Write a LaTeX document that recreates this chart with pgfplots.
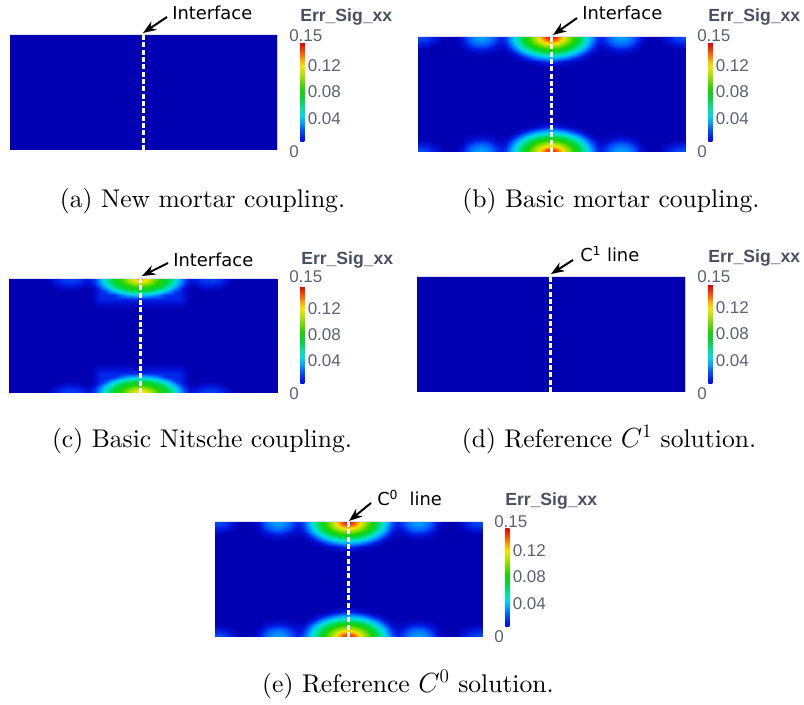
\documentclass[border=0pt]{standalone}
\usepackage{fontspec}
\usepackage{pgfplots}
\pgfplotsset{compat=1.18}
\usepackage{pgfplotstable}
\usetikzlibrary{arrows.meta}
\newfontfamily\dv{DejaVu Sans}
\newfontfamily\lib{Liberation Sans}
\newfontfamily\lmten{lmroman10-regular}[Extension=.otf]
\definecolor{cbtxt}{RGB}{74,80,98}
\definecolor{cbnum}{RGB}{92,98,116}
\definecolor{fieldbg}{RGB}{0,0,178}

\pgfplotsset{
 colormap={pvbar}{rgb255(0cm)=(0,0,235); rgb255(1cm)=(0,40,255); rgb255(2cm)=(0,95,255); rgb255(3cm)=(0,165,255); rgb255(4cm)=(0,215,235); rgb255(5cm)=(0,225,170); rgb255(6.5cm)=(0,215,60); rgb255(8cm)=(30,210,0); rgb255(10cm)=(160,225,0); rgb255(11.5cm)=(245,230,0); rgb255(12.5cm)=(255,170,0); rgb255(13.5cm)=(255,90,0); rgb255(15cm)=(225,0,0)},
 colormap={pv}{rgb255(0cm)=(0,0,178); rgb255(1cm)=(0,25,225); rgb255(2cm)=(0,95,255); rgb255(3cm)=(0,165,255); rgb255(4cm)=(0,215,235); rgb255(5cm)=(0,225,170); rgb255(6.5cm)=(0,215,60); rgb255(8cm)=(30,210,0); rgb255(10cm)=(160,225,0); rgb255(11.5cm)=(245,230,0); rgb255(12.5cm)=(255,170,0); rgb255(13.5cm)=(255,90,0); rgb255(15cm)=(225,0,0)},
 field/.style={
   scale only axis, view={0}{90}, enlargelimits=false,
   axis line style={draw=none}, xtick=\empty, ytick=\empty, ztick=\empty,
   ymin=-57.5, ymax=57.5, zmin=0, zmax=1,
   axis background/.style={fill=fieldbg},
   point meta min=0, point meta max=0.15,
   colormap name=pv,
   colorbar,
   colorbar style={
     at={(parent axis.north east)}, anchor=north west, xshift=9pt,
     width=3pt, height=74.25pt, scale only axis,
     colormap name=pvbar,
     axis line style={draw=none},
     xtick=\empty,
     ytick={0.04,0.08,0.12}, yticklabels={0.04,0.08,0.12},
     major tick length=0pt,
     yticklabel style={font=\lib\fontsize{12.75}{14}\selectfont, text=cbnum, anchor=west, xshift=-1pt, yshift=-2pt},
   },
 },
 fs/.style={surf, shader=interp, mesh/cols=25, point meta=\thisrow{v}},
 dline/.style={white, line width=2.25pt, dash pattern=on 3.75pt off 1.75pt},
}

\pgfplotstableread[row sep=\\]{
x d v\\
0 0 0.155\\ 5 0 0.140\\ 10 0 0.125\\ 15 0 0.105\\ 20 0 0.090\\ 25 0 0.075\\ 30 0 0.060\\ 35 0 0.045\\ 40 0 0.030\\ 45 0 0.016\\ 50 0 0.011\\ 55 0 0.016\\ 60 0 0.023\\ 65 0 0.028\\ 70 0 0.030\\ 75 0 0.028\\ 80 0 0.023\\ 85 0 0.016\\ 90 0 0.007\\ 95 0 0.002\\ 100 0 0\\ 108 0 0\\ 116 0 0.009\\ 124 0 0.015\\ 140 0 0.020\\
0 3 0.138\\ 5 3 0.132\\ 10 3 0.119\\ 15 3 0.102\\ 20 3 0.088\\ 25 3 0.073\\ 30 3 0.059\\ 35 3 0.044\\ 40 3 0.029\\ 45 3 0.015\\ 50 3 0.010\\ 55 3 0.015\\ 60 3 0.022\\ 65 3 0.026\\ 70 3 0.028\\ 75 3 0.026\\ 80 3 0.022\\ 85 3 0.015\\ 90 3 0.006\\ 95 3 0.001\\ 100 3 0\\ 108 3 0\\ 116 3 0.008\\ 124 3 0.014\\ 140 3 0.017\\
0 6 0.119\\ 5 6 0.115\\ 10 6 0.105\\ 15 6 0.094\\ 20 6 0.081\\ 25 6 0.068\\ 30 6 0.054\\ 35 6 0.040\\ 40 6 0.025\\ 45 6 0.012\\ 50 6 0.008\\ 55 6 0.012\\ 60 6 0.018\\ 65 6 0.022\\ 70 6 0.024\\ 75 6 0.022\\ 80 6 0.018\\ 85 6 0.012\\ 90 6 0.004\\ 95 6 0\\ 100 6 0\\ 108 6 0\\ 116 6 0.005\\ 124 6 0.010\\ 140 6 0.013\\
0 9 0.099\\ 5 9 0.097\\ 10 9 0.091\\ 15 9 0.082\\ 20 9 0.071\\ 25 9 0.059\\ 30 9 0.047\\ 35 9 0.033\\ 40 9 0.020\\ 45 9 0.009\\ 50 9 0.005\\ 55 9 0.008\\ 60 9 0.013\\ 65 9 0.017\\ 70 9 0.018\\ 75 9 0.017\\ 80 9 0.013\\ 85 9 0.008\\ 90 9 0.002\\ 95 9 0\\ 100 9 0\\ 108 9 0\\ 116 9 0\\ 124 9 0.006\\ 140 9 0.008\\
0 12 0.082\\ 5 12 0.080\\ 10 12 0.075\\ 15 12 0.068\\ 20 12 0.059\\ 25 12 0.049\\ 30 12 0.037\\ 35 12 0.025\\ 40 12 0.013\\ 45 12 0.005\\ 50 12 0.002\\ 55 12 0.004\\ 60 12 0.007\\ 65 12 0.010\\ 70 12 0.011\\ 75 12 0.010\\ 80 12 0.007\\ 85 12 0.004\\ 90 12 0\\ 95 12 0\\ 100 12 0\\ 108 12 0\\ 116 12 0\\ 124 12 0\\ 140 12 0.002\\
0 16 0.059\\ 5 16 0.058\\ 10 16 0.054\\ 15 16 0.048\\ 20 16 0.041\\ 25 16 0.032\\ 30 16 0.022\\ 35 16 0.012\\ 40 16 0.005\\ 45 16 0.001\\ 50 16 0\\ 55 16 0.001\\ 60 16 0.002\\ 65 16 0.003\\ 70 16 0.004\\ 75 16 0.003\\ 80 16 0.002\\ 85 16 0.001\\ 90 16 0\\ 95 16 0\\ 100 16 0\\ 108 16 0\\ 116 16 0\\ 124 16 0\\ 140 16 0\\
0 20 0.036\\ 5 20 0.035\\ 10 20 0.032\\ 15 20 0.028\\ 20 20 0.021\\ 25 20 0.014\\ 30 20 0.008\\ 35 20 0.003\\ 40 20 0\\ 45 20 0\\ 50 20 0\\ 55 20 0\\ 60 20 0\\ 65 20 0\\ 70 20 0\\ 75 20 0\\ 80 20 0\\ 85 20 0\\ 90 20 0\\ 95 20 0\\ 100 20 0\\ 108 20 0\\ 116 20 0\\ 124 20 0\\ 140 20 0\\
0 25 0.014\\ 5 25 0.012\\ 10 25 0.008\\ 15 25 0.005\\ 20 25 0.003\\ 25 25 0.001\\ 30 25 0\\ 35 25 0\\ 40 25 0\\ 45 25 0\\ 50 25 0\\ 55 25 0\\ 60 25 0\\ 65 25 0\\ 70 25 0\\ 75 25 0\\ 80 25 0\\ 85 25 0\\ 90 25 0\\ 95 25 0\\ 100 25 0\\ 108 25 0\\ 116 25 0\\ 124 25 0\\ 140 25 0\\
0 30 0\\ 5 30 0\\ 10 30 0\\ 15 30 0\\ 20 30 0\\ 25 30 0\\ 30 30 0\\ 35 30 0\\ 40 30 0\\ 45 30 0\\ 50 30 0\\ 55 30 0\\ 60 30 0\\ 65 30 0\\ 70 30 0\\ 75 30 0\\ 80 30 0\\ 85 30 0\\ 90 30 0\\ 95 30 0\\ 100 30 0\\ 108 30 0\\ 116 30 0\\ 124 30 0\\ 140 30 0\\
0 57.5 0\\ 5 57.5 0\\ 10 57.5 0\\ 15 57.5 0\\ 20 57.5 0\\ 25 57.5 0\\ 30 57.5 0\\ 35 57.5 0\\ 40 57.5 0\\ 45 57.5 0\\ 50 57.5 0\\ 55 57.5 0\\ 60 57.5 0\\ 65 57.5 0\\ 70 57.5 0\\ 75 57.5 0\\ 80 57.5 0\\ 85 57.5 0\\ 90 57.5 0\\ 95 57.5 0\\ 100 57.5 0\\ 108 57.5 0\\ 116 57.5 0\\ 124 57.5 0\\ 140 57.5 0\\
}\fieldB

\pgfplotstableread[row sep=\\]{
x d v\\
0 0 0.128\\ 5 0 0.118\\ 10 0 0.105\\ 15 0 0.092\\ 20 0 0.080\\ 25 0 0.070\\ 30 0 0.060\\ 35 0 0.045\\ 40 0 0.030\\ 45 0 0.016\\ 50 0 0.009\\ 55 0 0.009\\ 60 0 0.013\\ 65 0 0.015\\ 70 0 0.016\\ 75 0 0.015\\ 80 0 0.013\\ 85 0 0.009\\ 90 0 0.003\\ 95 0 0\\ 100 0 0\\ 108 0 0\\ 116 0 0\\ 124 0 0\\ 140 0 0\\
0 3 0.112\\ 5 3 0.108\\ 10 3 0.099\\ 15 3 0.088\\ 20 3 0.078\\ 25 3 0.068\\ 30 3 0.058\\ 35 3 0.043\\ 40 3 0.028\\ 45 3 0.015\\ 50 3 0.007\\ 55 3 0.008\\ 60 3 0.012\\ 65 3 0.014\\ 70 3 0.014\\ 75 3 0.014\\ 80 3 0.012\\ 85 3 0.008\\ 90 3 0.002\\ 95 3 0\\ 100 3 0\\ 108 3 0\\ 116 3 0\\ 124 3 0\\ 140 3 0\\
0 6 0.094\\ 5 6 0.092\\ 10 6 0.086\\ 15 6 0.078\\ 20 6 0.071\\ 25 6 0.062\\ 30 6 0.050\\ 35 6 0.037\\ 40 6 0.023\\ 45 6 0.012\\ 50 6 0.004\\ 55 6 0.004\\ 60 6 0.008\\ 65 6 0.010\\ 70 6 0.011\\ 75 6 0.010\\ 80 6 0.008\\ 85 6 0.004\\ 90 6 0\\ 95 6 0\\ 100 6 0\\ 108 6 0\\ 116 6 0\\ 124 6 0\\ 140 6 0\\
0 9 0.077\\ 5 9 0.076\\ 10 9 0.072\\ 15 9 0.067\\ 20 9 0.061\\ 25 9 0.051\\ 30 9 0.039\\ 35 9 0.027\\ 40 9 0.015\\ 45 9 0.006\\ 50 9 0.001\\ 55 9 0\\ 60 9 0.002\\ 65 9 0.005\\ 70 9 0.006\\ 75 9 0.005\\ 80 9 0.002\\ 85 9 0\\ 90 9 0\\ 95 9 0\\ 100 9 0\\ 108 9 0\\ 116 9 0\\ 124 9 0\\ 140 9 0\\
0 12 0.062\\ 5 12 0.062\\ 10 12 0.059\\ 15 12 0.053\\ 20 12 0.045\\ 25 12 0.036\\ 30 12 0.026\\ 35 12 0.015\\ 40 12 0.012\\ 45 12 0.005\\ 50 12 0\\ 55 12 0\\ 60 12 0\\ 65 12 0\\ 70 12 0\\ 75 12 0\\ 80 12 0\\ 85 12 0\\ 90 12 0\\ 95 12 0\\ 100 12 0\\ 108 12 0\\ 116 12 0\\ 124 12 0\\ 140 12 0\\
0 16 0.035\\ 5 16 0.034\\ 10 16 0.031\\ 15 16 0.027\\ 20 16 0.021\\ 25 16 0.014\\ 30 16 0.012\\ 35 16 0.012\\ 40 16 0.012\\ 45 16 0.005\\ 50 16 0\\ 55 16 0\\ 60 16 0\\ 65 16 0\\ 70 16 0\\ 75 16 0\\ 80 16 0\\ 85 16 0\\ 90 16 0\\ 95 16 0\\ 100 16 0\\ 108 16 0\\ 116 16 0\\ 124 16 0\\ 140 16 0\\
0 20 0.012\\ 5 20 0.012\\ 10 20 0.012\\ 15 20 0.012\\ 20 20 0.012\\ 25 20 0.012\\ 30 20 0.012\\ 35 20 0.012\\ 40 20 0.012\\ 45 20 0.005\\ 50 20 0\\ 55 20 0\\ 60 20 0\\ 65 20 0\\ 70 20 0\\ 75 20 0\\ 80 20 0\\ 85 20 0\\ 90 20 0\\ 95 20 0\\ 100 20 0\\ 108 20 0\\ 116 20 0\\ 124 20 0\\ 140 20 0\\
0 25 0.005\\ 5 25 0.005\\ 10 25 0.005\\ 15 25 0.005\\ 20 25 0.005\\ 25 25 0.005\\ 30 25 0.005\\ 35 25 0.005\\ 40 25 0.005\\ 45 25 0.002\\ 50 25 0\\ 55 25 0\\ 60 25 0\\ 65 25 0\\ 70 25 0\\ 75 25 0\\ 80 25 0\\ 85 25 0\\ 90 25 0\\ 95 25 0\\ 100 25 0\\ 108 25 0\\ 116 25 0\\ 124 25 0\\ 140 25 0\\
0 30 0\\ 5 30 0\\ 10 30 0\\ 15 30 0\\ 20 30 0\\ 25 30 0\\ 30 30 0\\ 35 30 0\\ 40 30 0\\ 45 30 0\\ 50 30 0\\ 55 30 0\\ 60 30 0\\ 65 30 0\\ 70 30 0\\ 75 30 0\\ 80 30 0\\ 85 30 0\\ 90 30 0\\ 95 30 0\\ 100 30 0\\ 108 30 0\\ 116 30 0\\ 124 30 0\\ 140 30 0\\
0 57.5 0\\ 5 57.5 0\\ 10 57.5 0\\ 15 57.5 0\\ 20 57.5 0\\ 25 57.5 0\\ 30 57.5 0\\ 35 57.5 0\\ 40 57.5 0\\ 45 57.5 0\\ 50 57.5 0\\ 55 57.5 0\\ 60 57.5 0\\ 65 57.5 0\\ 70 57.5 0\\ 75 57.5 0\\ 80 57.5 0\\ 85 57.5 0\\ 90 57.5 0\\ 95 57.5 0\\ 100 57.5 0\\ 108 57.5 0\\ 116 57.5 0\\ 124 57.5 0\\ 140 57.5 0\\
}\fieldC

\pgfplotstableread[row sep=\\]{
x y v\\
-140 -57.5 0\\ 140 -57.5 0\\
-140 57.5 0\\ 140 57.5 0\\
}\fieldZero

\newcommand{\capfont}{\lmten\fontsize{19.2}{23}\selectfont}
\newcommand{\annfont}{\dv\fontsize{13.4}{16}\selectfont}
\newcommand{\errfont}{\lib\bfseries\fontsize{13.2}{16}\selectfont}
\newcommand{\numfont}{\lib\fontsize{12.75}{14}\selectfont}

\begin{document}
\begin{tikzpicture}
\useasboundingbox (0,0) rectangle (603pt,-528.75pt);

% (a)
\begin{axis}[field, at={({10*0.75pt},{-150*0.75pt})}, anchor=south west,
  width=200.25pt, height=86.25pt, xmin=-133, xmax=134, colorbar style={yshift=-6pt}]
\addplot3[surf, shader=flat, mesh/cols=2, point meta=\thisrow{v}] table[x=x, y=y, z=v] {\fieldZero};
\addplot3[dline] coordinates {(0,-57.5,1) (0,57.5,1)};
\end{axis}

% (b)
\begin{axis}[field, at={({418*0.75pt},{-152*0.75pt})}, anchor=south west,
  width=200.25pt, height=86.25pt, xmin=-133, xmax=134, colorbar style={yshift=-4.5pt}]
\addplot3[fs] table[x=x, y expr=57.5-\thisrow{d}, z=v] {\fieldB};
\addplot3[fs] table[x expr=-\thisrow{x}, y expr=57.5-\thisrow{d}, z=v] {\fieldB};
\addplot3[fs] table[x=x, y expr=\thisrow{d}-57.5, z=v] {\fieldB};
\addplot3[fs] table[x expr=-\thisrow{x}, y expr=\thisrow{d}-57.5, z=v] {\fieldB};
\addplot3[dline] coordinates {(0,-57.5,1) (0,57.5,1)};
\end{axis}

% (c)
\begin{axis}[field, at={({9*0.75pt},{-393*0.75pt})}, anchor=south west,
  width=201pt, height=85.5pt, xmin=-131, xmax=137, colorbar style={yshift=-5.25pt, height=73.5pt}]
\addplot3[fs] table[x=x, y expr=57.5-\thisrow{d}, z=v] {\fieldC};
\addplot3[fs] table[x expr=-\thisrow{x}, y expr=57.5-\thisrow{d}, z=v] {\fieldC};
\addplot3[fs] table[x=x, y expr=\thisrow{d}-57.5, z=v] {\fieldC};
\addplot3[fs] table[x expr=-\thisrow{x}, y expr=\thisrow{d}-57.5, z=v] {\fieldC};
\addplot3[dline] coordinates {(0,-57.5,1) (0,57.5,1)};
\end{axis}

% (d)
\begin{axis}[field, at={({417*0.75pt},{-392*0.75pt})}, anchor=south west,
  width=201pt, height=86.25pt, xmin=-133, xmax=135, colorbar style={yshift=-6pt}]
\addplot3[surf, shader=flat, mesh/cols=2, point meta=\thisrow{v}] table[x=x, y=y, z=v] {\fieldZero};
\addplot3[dline] coordinates {(0,-57.5,1) (0,57.5,1)};
\end{axis}

% (e)
\begin{axis}[field, at={({215*0.75pt},{-637*0.75pt})}, anchor=south west,
  width=200.25pt, height=86.25pt, xmin=-133, xmax=134, colorbar style={yshift=-4.5pt}]
\addplot3[fs] table[x=x, y expr=57.5-\thisrow{d}, z=v] {\fieldB};
\addplot3[fs] table[x expr=-\thisrow{x}, y expr=57.5-\thisrow{d}, z=v] {\fieldB};
\addplot3[fs] table[x=x, y expr=\thisrow{d}-57.5, z=v] {\fieldB};
\addplot3[fs] table[x expr=-\thisrow{x}, y expr=\thisrow{d}-57.5, z=v] {\fieldB};
\addplot3[dline] coordinates {(0,-57.5,1) (0,57.5,1)};
\end{axis}

\begin{scope}[x=0.75pt, y=-0.75pt]
\tikzset{myann/.style={anchor=base west, inner sep=0pt, font=\annfont},
  myerr/.style={anchor=base west, inner sep=0pt, font=\errfont, text=cbtxt},
  mynum/.style={anchor=base west, inner sep=0pt, font=\numfont, text=cbnum},
  mycap/.style={anchor=base, inner sep=0pt, font=\capfont},
  myarr/.style={line width=1.5pt, -{Stealth[length=10pt, width=7.5pt]}}}
% (a)
\draw[myarr] (167,17) -- (143,33);
\node[myann] at (172,20) {Interface};
\node[myerr] at (300,22) {Err\_Sig\_xx};
\node[mynum] at (289,42) {0.15};
\node[mynum] at (289,158) {0};
\node[mycap] at (202.5,208) {(a) New mortar coupling.};
% (b)
\draw[myarr] (577,18) -- (553,35);
\node[myann] at (582,20) {Interface};
\node[myerr] at (708,22) {Err\_Sig\_xx};
\node[mynum] at (697,42) {0.15};
\node[mynum] at (697,158) {0};
\node[mycap] at (611,208) {(b) Basic mortar coupling.};
% (c)
\draw[myarr] (168,263) -- (142,276);
\node[myann] at (173,267) {Interface};
\node[myerr] at (301,265) {Err\_Sig\_xx};
\node[mynum] at (289,283) {0.15};
\node[mynum] at (289,400) {0};
\node[mycap] at (202,448) {(c) Basic Nitsche coupling.};
% (d)
\draw[myarr] (573,260) -- (551,274);
\node[myann] at (580,262) {C\textsuperscript{1} line};
\node[myerr] at (708,263) {Err\_Sig\_xx};
\node[mynum] at (697,283) {0.15};
\node[mynum] at (697,400) {0};
\node[mycap] at (609,448) {(d) Reference $C^1$ solution.};
% (e)
\draw[myarr] (371,503) -- (349,521);
\node[myann] at (377,506) {C\textsuperscript{0}\ \ line};
\node[myerr] at (505,506) {Err\_Sig\_xx};
\node[mynum] at (494,528) {0.15};
\node[mynum] at (494,643) {0};
\node[mycap] at (408,693) {(e) Reference $C^0$ solution.};
\end{scope}
\end{tikzpicture}
\end{document}
